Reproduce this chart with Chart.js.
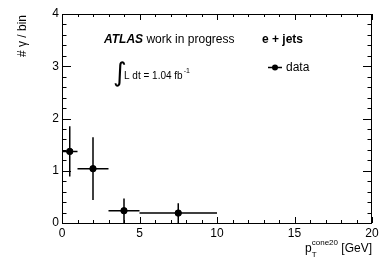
<!DOCTYPE html>
<html>
<head>
<meta charset="utf-8">
<script src="https://cdn.jsdelivr.net/npm/chart.js@4/dist/chart.umd.min.js"></script>
<style>
  html, body { margin: 0; padding: 0; background: #fff; }
  #wrap { width: 392px; height: 266px; }
</style>
</head>
<body>
<div id="wrap"><canvas id="iso-chart" width="392" height="266"></canvas></div>
<script>
// photon isolation pT, e + jets channel
const binLow = [0, 1, 3, 5];
const binHigh = [1, 3, 5, 10];
const binCenter = [0.5, 2, 4, 7.5];
const counts = [1.37, 1.04, 0.235, 0.19];
const errors = [0.48, 0.6, 0.235, 0.19];
const xTicks = [0, 5, 10, 15, 20];
const yTicks = [0, 1, 2, 3, 4];

const FONT = "'Liberation Sans', Arial, Helvetica, sans-serif";

// error bars: x = bin width, y = stat error
const errorBars = {
  id: 'errorBars',
  beforeDatasetsDraw(chart) {
    let { ctx, scales: { x, y } } = chart;
    ctx.save();
    ctx.strokeStyle = '#000';
    ctx.lineWidth = 1.5;
    counts.forEach((v, i) => {
      let py = y.getPixelForValue(v);
      let px = x.getPixelForValue(binCenter[i]);
      ctx.beginPath();
      ctx.moveTo(x.getPixelForValue(binLow[i]), py);
      ctx.lineTo(x.getPixelForValue(binHigh[i]), py);
      ctx.moveTo(px, y.getPixelForValue(v - errors[i]));
      ctx.lineTo(px, y.getPixelForValue(v + errors[i]));
      ctx.stroke();
    });
    ctx.restore();
  }
};

// ROOT style frame with inward ticks on all four sides
const frame = {
  id: 'frame',
  afterDatasetsDraw(chart) {
    let { ctx, chartArea: a, scales: { x, y } } = chart;
    ctx.save();
    ctx.strokeStyle = '#000';
    ctx.lineWidth = 1;
    ctx.strokeRect(a.left + 0.5, a.top + 0.5, a.right - a.left - 1, a.bottom - a.top);
    ctx.beginPath();
    for (let v = 0; v <= 20; v += 1) {
      let px = Math.round(x.getPixelForValue(v)) + 0.5;
      let len = v % 5 === 0 ? 6 : 3;
      ctx.moveTo(px, a.bottom); ctx.lineTo(px, a.bottom - len);
      ctx.moveTo(px, a.top); ctx.lineTo(px, a.top + len);
    }
    for (let k = 0; k <= 20; k++) {
      let py = Math.round(y.getPixelForValue(k * 0.2)) + 0.5;
      let len = k % 5 === 0 ? 9 : 4.5;
      ctx.moveTo(a.left, py); ctx.lineTo(a.left + len, py);
      ctx.moveTo(a.right, py); ctx.lineTo(a.right - len, py);
    }
    ctx.stroke();
    ctx.restore();
  }
};

// labels, legend and axis titles
const annotations = {
  id: 'annotations',
  afterDraw(chart) {
    let { ctx, chartArea: a } = chart;
    ctx.save();
    ctx.fillStyle = '#000';
    ctx.textBaseline = 'alphabetic';

    ctx.textAlign = 'left';
    ctx.font = `italic bold 12px ${FONT}`;
    ctx.fillText('ATLAS', 104, 43);
    let w = ctx.measureText('ATLAS ').width;
    ctx.font = `12px ${FONT}`;
    ctx.fillText('work in progress', 104 + w, 43);

    ctx.font = `bold 12px ${FONT}`;
    ctx.fillText('e + jets', 262, 43);

    // luminosity
    ctx.font = `26px 'DejaVu Sans', sans-serif`;
    ctx.fillText('\u222B', 113, 81);
    ctx.font = `10px ${FONT}`;
    ctx.fillText('L dt = 1.04 fb', 124, 79);
    let lw = ctx.measureText('L dt = 1.04 fb').width;
    ctx.font = `7px ${FONT}`;
    ctx.fillText('-1', 124 + lw + 1, 73);

    // legend
    ctx.strokeStyle = '#000';
    ctx.lineWidth = 1.5;
    ctx.beginPath();
    ctx.moveTo(268, 67.5); ctx.lineTo(282, 67.5);
    ctx.stroke();
    ctx.beginPath();
    ctx.arc(275, 67.5, 3, 0, Math.PI * 2);
    ctx.fill();
    ctx.font = `12px ${FONT}`;
    ctx.fillText('data', 286, 71);

    // x title: p_T^cone20 [GeV]
    ctx.textAlign = 'right';
    ctx.font = `12px ${FONT}`;
    let gev = ' [GeV]';
    ctx.fillText(gev, a.right, 252);
    let gw = ctx.measureText(gev).width;
    ctx.font = `8px ${FONT}`;
    let cw = ctx.measureText('cone20').width;
    ctx.textAlign = 'left';
    let sx = a.right - gw - cw;
    ctx.fillText('cone20', sx, 245);
    ctx.fillText('T', sx, 257);
    ctx.font = `12px ${FONT}`;
    ctx.textAlign = 'right';
    ctx.fillText('p', sx, 252);

    // y title
    ctx.translate(26, a.top + 1);
    ctx.rotate(-Math.PI / 2);
    ctx.textAlign = 'right';
    ctx.font = `12px ${FONT}`;
    ctx.fillText('# \u03B3 / bin', 0, 0);
    ctx.restore();
  }
};

new Chart(document.getElementById('iso-chart').getContext('2d'), {
  type: 'scatter',
  data: {
    datasets: [{
      label: 'data',
      data: binCenter.map((c, i) => ({ x: c, y: counts[i] })),
      backgroundColor: '#000',
      borderColor: '#000',
      pointRadius: 3.2,
      pointHoverRadius: 3.2
    }]
  },
  options: {
    responsive: false,
    animation: false,
    events: [],
    layout: { padding: { left: 0, right: 20, top: 14, bottom: 0 } },
    plugins: { legend: { display: false }, tooltip: { enabled: false } },
    scales: {
      x: {
        type: 'linear',
        min: 0, max: 20,
        afterBuildTicks: s => { s.ticks = xTicks.map(v => ({ value: v })); },
        afterFit: s => { s.height = 43; },
        grid: { display: false, drawTicks: false },
        border: { display: false },
        ticks: { color: '#000', font: { family: FONT, size: 12 }, padding: 3, maxRotation: 0 }
      },
      y: {
        min: 0, max: 4,
        afterBuildTicks: s => { s.ticks = yTicks.map(v => ({ value: v })); },
        afterFit: s => { s.width = 62; },
        grid: { display: false, drawTicks: false },
        border: { display: false },
        ticks: { color: '#000', font: { family: FONT, size: 12 }, padding: 3 }
      }
    }
  },
  plugins: [errorBars, frame, annotations]
});
</script>
</body>
</html>
